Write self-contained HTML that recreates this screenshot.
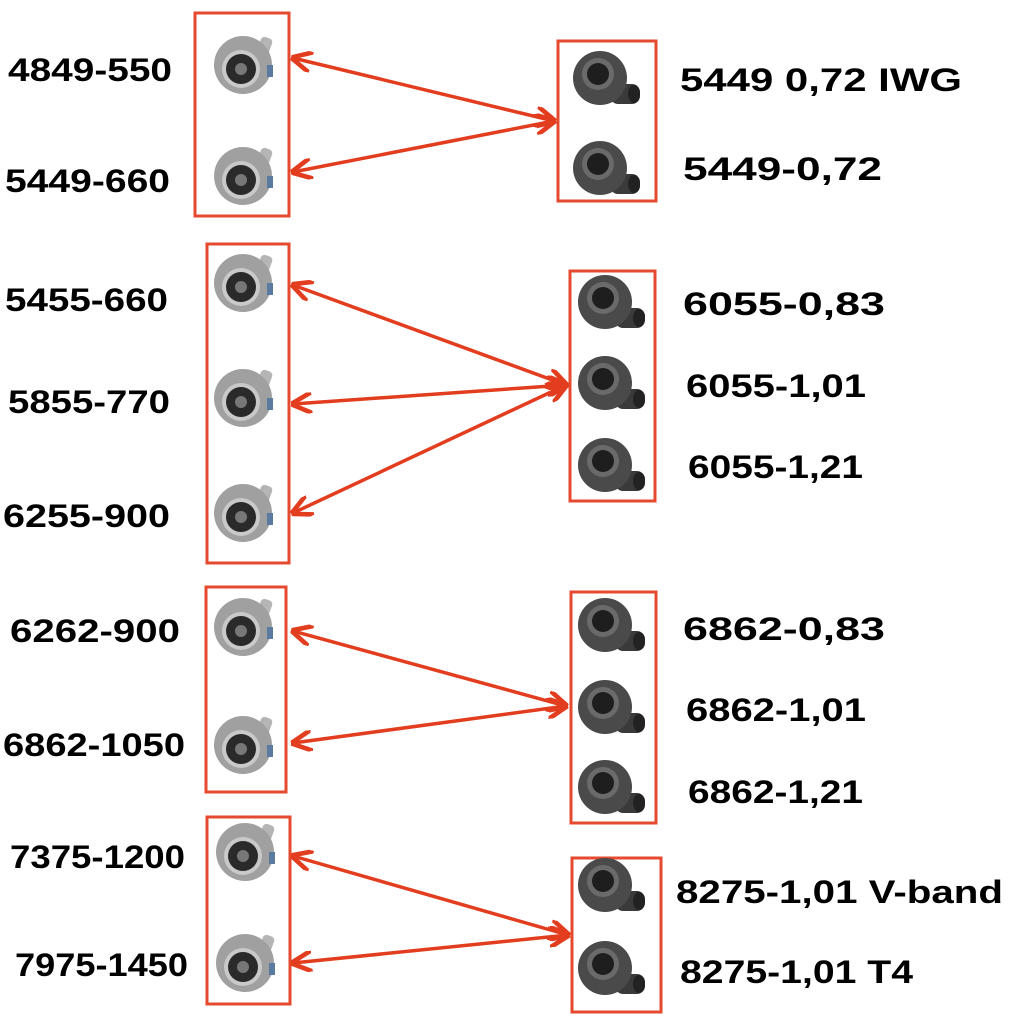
<!DOCTYPE html>
<html><head><meta charset="utf-8"><style>
html,body{margin:0;padding:0;background:#fff;}
svg{display:block}
text{font-family:"Liberation Sans",sans-serif;font-weight:bold;font-size:32px;fill:#000}
</style></head><body>
<svg width="1024" height="1024" viewBox="0 0 1024 1024" xmlns="http://www.w3.org/2000/svg">
<defs>
<g id="comp">
  <rect x="8" y="-34" width="12" height="20" rx="4" fill="#b5b5b5" transform="rotate(20)"/>
  <circle cx="0" cy="0" r="29" fill="#a0a0a0"/>
  <circle cx="-2" cy="4" r="19" fill="#c9c9c9"/>
  <circle cx="-2" cy="4" r="15" fill="#2a2a2a"/>
  <circle cx="-2" cy="4" r="6" fill="#777"/>
  <rect x="24" y="0" width="6" height="12" fill="#5a7aa0"/>
</g>
<g id="hous">
  <rect x="6" y="6" width="30" height="20" rx="8" fill="#3a3a3a"/>
  <circle cx="-4" cy="0" r="27" fill="#4a4a4a"/>
  <circle cx="-6" cy="-4" r="16" fill="#6a6a6a"/>
  <circle cx="-6" cy="-4" r="11" fill="#1e1e1e"/>
  <ellipse cx="30" cy="16" rx="6" ry="9" fill="#222"/>
</g>
<marker id="ah" viewBox="0 0 10 10" refX="9" refY="5" markerWidth="6" markerHeight="6" orient="auto-start-reverse">
  <path d="M0,0 L10,5 L0,10" fill="none" stroke="#e33d1f" stroke-width="2.2"/>
</marker>
</defs>
<g fill="none" stroke="#e64a2e" stroke-width="3">
<rect x="195" y="13" width="94" height="203"/>
<rect x="558" y="41" width="98" height="160"/>
<rect x="207" y="244" width="82" height="319"/>
<rect x="570" y="271" width="85" height="230"/>
<rect x="206" y="587" width="80" height="205"/>
<rect x="571" y="592" width="85" height="231"/>
<rect x="207" y="817" width="83" height="187"/>
<rect x="572" y="858" width="89" height="154"/>
</g>
<g stroke="#e33d1f" stroke-width="3.5" marker-start="url(#ah)" marker-end="url(#ah)">
<line x1="293" y1="58" x2="554" y2="121"/>
<line x1="293" y1="172" x2="554" y2="121"/>
<line x1="293" y1="285" x2="566" y2="385"/>
<line x1="293" y1="404" x2="566" y2="385"/>
<line x1="293" y1="513" x2="566" y2="385"/>
<line x1="293" y1="631" x2="566" y2="706"/>
<line x1="293" y1="743" x2="566" y2="706"/>
<line x1="293" y1="856" x2="568" y2="935"/>
<line x1="293" y1="963" x2="568" y2="935"/>
</g>
<use href="#comp" x="243" y="65"/>
<use href="#comp" x="243" y="176"/>
<use href="#hous" x="604" y="78"/>
<use href="#hous" x="604" y="168"/>
<use href="#comp" x="243" y="283"/>
<use href="#comp" x="243" y="398"/>
<use href="#comp" x="243" y="513"/>
<use href="#hous" x="609" y="302"/>
<use href="#hous" x="609" y="383"/>
<use href="#hous" x="609" y="465"/>
<use href="#comp" x="243" y="627"/>
<use href="#comp" x="243" y="745"/>
<use href="#hous" x="609" y="625"/>
<use href="#hous" x="609" y="707"/>
<use href="#hous" x="609" y="787"/>
<use href="#comp" x="245" y="852"/>
<use href="#comp" x="245" y="963"/>
<use href="#hous" x="609" y="885"/>
<use href="#hous" x="609" y="968"/>
<text x="8" y="81" textLength="164" lengthAdjust="spacingAndGlyphs">4849-550</text>
<text x="5" y="192" textLength="165" lengthAdjust="spacingAndGlyphs">5449-660</text>
<text x="5" y="311" textLength="163" lengthAdjust="spacingAndGlyphs">5455-660</text>
<text x="8" y="413" textLength="162" lengthAdjust="spacingAndGlyphs">5855-770</text>
<text x="3" y="527" textLength="167" lengthAdjust="spacingAndGlyphs">6255-900</text>
<text x="10" y="642" textLength="170" lengthAdjust="spacingAndGlyphs">6262-900</text>
<text x="3" y="756" textLength="182" lengthAdjust="spacingAndGlyphs">6862-1050</text>
<text x="10" y="868" textLength="175" lengthAdjust="spacingAndGlyphs">7375-1200</text>
<text x="15" y="976" textLength="173" lengthAdjust="spacingAndGlyphs">7975-1450</text>
<text x="680" y="91" font-size="36" textLength="282" lengthAdjust="spacingAndGlyphs">5449 0,72 IWG</text>
<text x="683" y="180" font-size="36" textLength="199" lengthAdjust="spacingAndGlyphs">5449-0,72</text>
<text x="683" y="315" font-size="36" textLength="202" lengthAdjust="spacingAndGlyphs">6055-0,83</text>
<text x="686" y="397" font-size="36" textLength="180" lengthAdjust="spacingAndGlyphs">6055-1,01</text>
<text x="688" y="478" font-size="36" textLength="175" lengthAdjust="spacingAndGlyphs">6055-1,21</text>
<text x="683" y="640" font-size="36" textLength="202" lengthAdjust="spacingAndGlyphs">6862-0,83</text>
<text x="686" y="721" font-size="36" textLength="180" lengthAdjust="spacingAndGlyphs">6862-1,01</text>
<text x="688" y="803" font-size="36" textLength="175" lengthAdjust="spacingAndGlyphs">6862-1,21</text>
<text x="676" y="903" font-size="36" textLength="327" lengthAdjust="spacingAndGlyphs">8275-1,01 V-band</text>
<text x="680" y="983" font-size="36" textLength="233" lengthAdjust="spacingAndGlyphs">8275-1,01 T4</text>
</svg>
</body></html>
